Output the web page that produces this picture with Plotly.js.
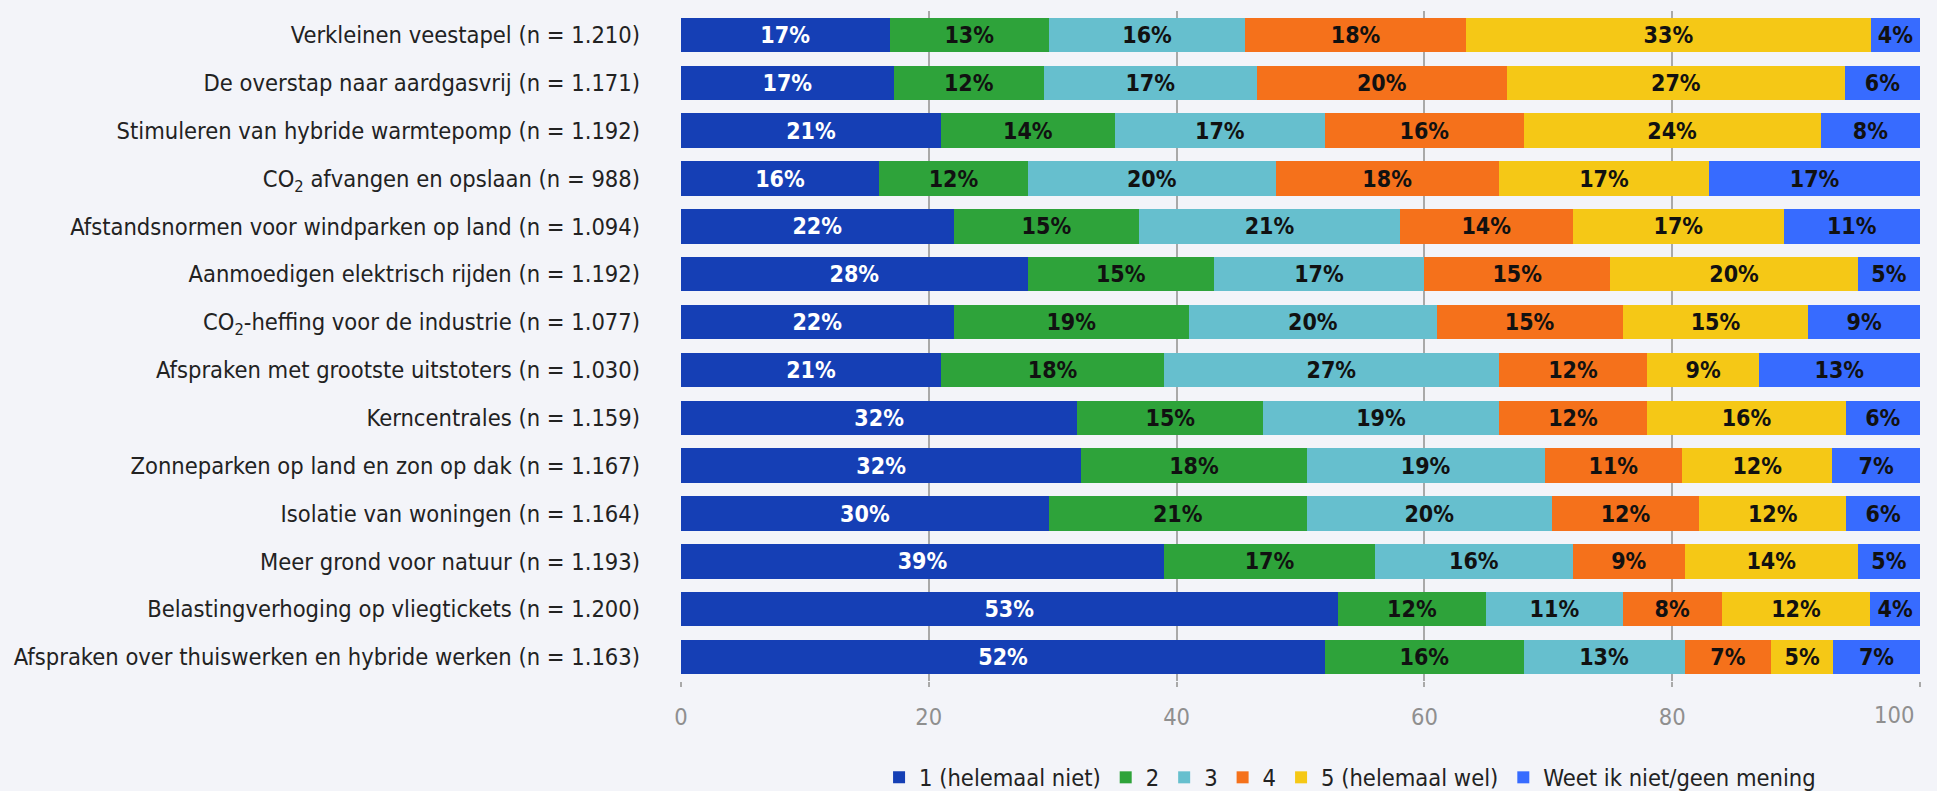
<!DOCTYPE html>
<html>
<head>
<meta charset="utf-8">
<script src="https://cdn.plot.ly/plotly-3.0.1.min.js"></script>
<style>
  html, body { margin: 0; padding: 0; background: #f3f4f9; }
  #chart { width: 1937px; height: 791px; }
</style>
</head>
<body>
<div id="chart"></div>
<script>
var categories = [
  'Verkleinen veestapel (n = 1.210)',
  'De overstap naar aardgasvrij (n = 1.171)',
  'Stimuleren van hybride warmtepomp (n = 1.192)',
  'CO<sub>2</sub> afvangen en opslaan (n = 988)',
  'Afstandsnormen voor windparken op land (n = 1.094)',
  'Aanmoedigen elektrisch rijden (n = 1.192)',
  'CO<sub>2</sub>-heffing voor de industrie (n = 1.077)',
  'Afspraken met grootste uitstoters (n = 1.030)',
  'Kerncentrales (n = 1.159)',
  'Zonneparken op land en zon op dak (n = 1.167)',
  'Isolatie van woningen (n = 1.164)',
  'Meer grond voor natuur (n = 1.193)',
  'Belastingverhoging op vliegtickets (n = 1.200)',
  'Afspraken over thuiswerken en hybride werken (n = 1.163)'
];

// percentages as printed in the bars
var helemaalNiet = [17, 17, 21, 16, 22, 28, 22, 21, 32, 32, 30, 39, 53, 52];
var score2       = [13, 12, 14, 12, 15, 15, 19, 18, 15, 18, 21, 17, 12, 16];
var score3       = [16, 17, 17, 20, 21, 17, 20, 27, 19, 19, 20, 16, 11, 13];
var score4       = [18, 20, 16, 18, 14, 15, 15, 12, 12, 11, 12,  9,  8,  7];
var helemaalWel  = [33, 27, 24, 17, 17, 20, 15,  9, 16, 12, 12, 14, 12,  5];
var weetNiet     = [ 4,  6,  8, 17, 11,  5,  9, 13,  6,  7,  6,  5,  4,  7];

var seriesNames = ['1 (helemaal niet)', '2', '3', '4', '5 (helemaal wel)', 'Weet ik niet/geen mening'];
var seriesValues = [helemaalNiet, score2, score3, score4, helemaalWel, weetNiet];
var seriesColors = ['#153fb5', '#2ea33a', '#66bfce', '#f5711b', '#f5c816', '#376bff'];
var labelColors = ['#ffffff', '#111111', '#111111', '#111111', '#111111', '#111111'];

var xTicks = [0, 20, 40, 60, 80, 100];
var xTickText = ['0', '20', '40', '60', '80', ''];
var xLastLabel = '100';

// rounded shares do not always add up to 100, so scale each row to 100
var rowTotals = categories.map(function (c, i) {
  return seriesValues.reduce(function (s, arr) { return s + arr[i]; }, 0);
});

var fontFamily = '"Liberation Sans Narrow", "DejaVu Sans Condensed", "Arial Narrow", sans-serif';

var data = seriesValues.map(function (vals, k) {
  return {
    type: 'bar',
    orientation: 'h',
    name: seriesNames[k],
    y: categories,
    x: vals.map(function (v, i) { return v / rowTotals[i] * 100; }),
    text: vals.map(function (v) { return v + '%'; }),
    textposition: 'inside',
    insidetextanchor: 'middle',
    constraintext: 'none',
    textangle: 0,
    textfont: { family: fontFamily, size: 23, color: labelColors[k], weight: 'bold' },
    marker: { color: seriesColors[k], line: { width: 0 } },
    hoverinfo: 'name+text'
  };
});

var tickFont = { family: fontFamily, size: 23.5, color: '#8f8f8f' };

var layout = {
  barmode: 'stack',
  bargap: 0.28,
  width: 1937,
  height: 791,
  paper_bgcolor: '#f3f4f9',
  plot_bgcolor: '#f3f4f9',
  font: { family: fontFamily, size: 23.5, color: '#222222' },
  margin: { l: 681, r: 17, t: 11, b: 110 },
  xaxis: {
    range: [0, 100],
    tickmode: 'array',
    tickvals: xTicks,
    ticktext: xTickText,
    automargin: false,
    showgrid: true,
    gridcolor: '#a9a9a9',
    gridwidth: 2,
    zeroline: false,
    showline: false,
    ticks: 'outside',
    ticklen: 5,
    tickwidth: 2,
    tickcolor: '#a9a9a9',
    ticklabelstandoff: 10,
    tickfont: tickFont,
    fixedrange: true
  },
  yaxis: {
    autorange: 'reversed',
    showgrid: false,
    zeroline: false,
    showline: false,
    ticks: '',
    automargin: false,
    ticklabelstandoff: 40,
    tickfont: { family: fontFamily, size: 23.5, color: '#222222' },
    fixedrange: true
  },
  // the "100" label is pulled inside the page like in the original
  annotations: [{
    x: xTicks[xTicks.length - 1],
    xref: 'x',
    y: 0,
    yref: 'paper',
    xanchor: 'right',
    yanchor: 'top',
    xshift: -4,
    yshift: -18,
    text: xLastLabel,
    showarrow: false,
    font: tickFont
  }],
  legend: {
    orientation: 'h',
    x: 0.54,
    xanchor: 'center',
    xref: 'paper',
    y: 0.017,
    yref: 'container',
    yanchor: 'middle',
    font: { family: fontFamily, size: 23.5, color: '#222222' },
    itemwidth: 30,
    traceorder: 'normal'
  },
  showlegend: true
};

Plotly.newPlot('chart', data, layout, { displayModeBar: false, staticPlot: true });
</script>
</body>
</html>
